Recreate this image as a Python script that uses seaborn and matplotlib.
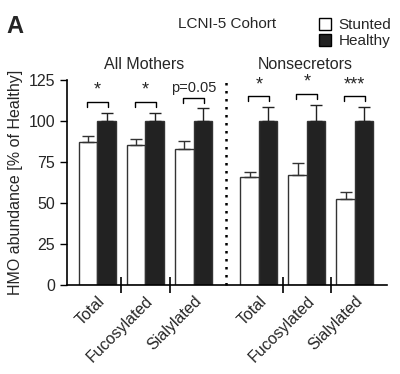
import numpy as np
import pandas as pd
import matplotlib
matplotlib.use("Agg")
import matplotlib.pyplot as plt
from matplotlib.patches import Patch
import seaborn as sns

# values (% of Healthy)
categories = ["Total", "Fucosylated", "Sialylated", "Total", "Fucosylated", "Sialylated"]
groups = ["All Mothers", "All Mothers", "All Mothers", "Nonsecretors", "Nonsecretors", "Nonsecretors"]
stunted = [87.5, 85.2, 83.2, 65.7, 67.2, 52.3]
stunted_err = [3.5, 4.0, 4.5, 3.0, 7.0, 4.5]
healthy = [100, 100, 100, 100, 100, 100]
healthy_err = [5.0, 5.0, 8.0, 8.7, 10.0, 8.7]
stars = ["*", "*", "p=0.05", "*", "*", "***"]
bracket_y = [111.5, 111.5, 114.0, 115.0, 116.5, 115.0]

sns.set_theme(style="ticks")
plt.rcParams["font.family"] = ["Liberation Sans", "DejaVu Sans"]

# x layout: pairs one unit apart, extra gap between the two cohorts
group_gap = 0.36
pos = np.array([i + (group_gap if groups[i] == "Nonsecretors" else 0) for i in range(len(categories))])

df = pd.DataFrame({
    "pos": np.concatenate([pos, pos]),
    "value": stunted + healthy,
    "cond": ["Stunted"] * 6 + ["Healthy"] * 6,
})

fig = plt.figure(figsize=(4.0, 3.74), dpi=100)
ax = fig.add_axes([0.1675, 0.238, 0.80, 0.548])

width = 0.77
sns.barplot(data=df, x="pos", y="value", hue="cond", hue_order=["Stunted", "Healthy"],
            native_scale=True, width=width, dodge=True, errorbar=None,
            palette={"Stunted": "white", "Healthy": "#222222"},
            edgecolor="#333333", linewidth=1.0, legend=False, ax=ax)

off = width / 4
ax.errorbar(pos - off, stunted, yerr=[np.zeros(6), stunted_err], fmt="none",
            ecolor="#333333", elinewidth=1.0, capsize=4, capthick=1.0, zorder=1)
ax.errorbar(pos + off, healthy, yerr=[np.zeros(6), healthy_err], fmt="none",
            ecolor="#222222", elinewidth=1.0, capsize=4, capthick=1.0, zorder=1)

# significance brackets
for p, s, by in zip(pos, stars, bracket_y):
    ax.plot([p - 0.22, p - 0.22, p + 0.22, p + 0.22], [by - 3, by, by, by - 3],
            color="black", lw=1.0, clip_on=False)
    fs = 10.5 if s.startswith("p") else 13
    ax.text(p, by + 2, s, ha="center", va="bottom", fontsize=fs, clip_on=False)

# dotted divider
mid = (pos[2] + pos[3]) / 2
ax.plot([mid, mid], [0, 124], color="black", lw=1.8, ls=(0, (1, 2.2)), clip_on=False)

ax.set_xlim(pos[0] - 0.635, pos[-1] + 0.67)
ax.set_ylim(0, 125)
ax.set_yticks([0, 25, 50, 75, 100, 125])
ax.set_xticks(pos)
ax.set_xticklabels(categories, rotation=45, ha="right", rotation_mode="anchor", fontsize=11.5)
seps = [(pos[i] + pos[i + 1]) / 2 for i in [0, 1, 3, 4]]
ax.set_xticks(seps, minor=True)
ax.tick_params(axis="x", which="major", length=0, pad=6)
ax.tick_params(axis="x", which="minor", direction="inout", length=11, width=1.2, color="black")
ax.tick_params(axis="y", length=5, width=1.0, color="black", labelsize=11.5)
ax.set_xlabel("")
ax.set_ylabel("HMO abundance [% of Healthy]", fontsize=11.5)
for sp in ["left", "bottom"]:
    ax.spines[sp].set_color("black")
    ax.spines[sp].set_linewidth(1.2)
sns.despine(ax=ax)

fig.text(0.361, 0.828, "All Mothers", ha="center", va="center", fontsize=11.5)
fig.text(0.763, 0.828, "Nonsecretors", ha="center", va="center", fontsize=11.5)
fig.text(0.568, 0.936, "LCNI-5 Cohort", ha="center", va="center", fontsize=11)
fig.text(0.016, 0.928, "A", ha="left", va="center", fontsize=17, fontweight="bold")

handles = [Patch(facecolor="white", edgecolor="black", lw=1.0, label="Stunted"),
           Patch(facecolor="#222222", edgecolor="black", lw=1.0, label="Healthy")]
fig.legend(handles=handles, loc="upper left", bbox_to_anchor=(0.77, 0.98), frameon=False,
           fontsize=11, handlelength=0.8, handleheight=0.8, handletextpad=0.5,
           labelspacing=0.1, borderpad=0.2)

fig.savefig("out.png", dpi=100)
